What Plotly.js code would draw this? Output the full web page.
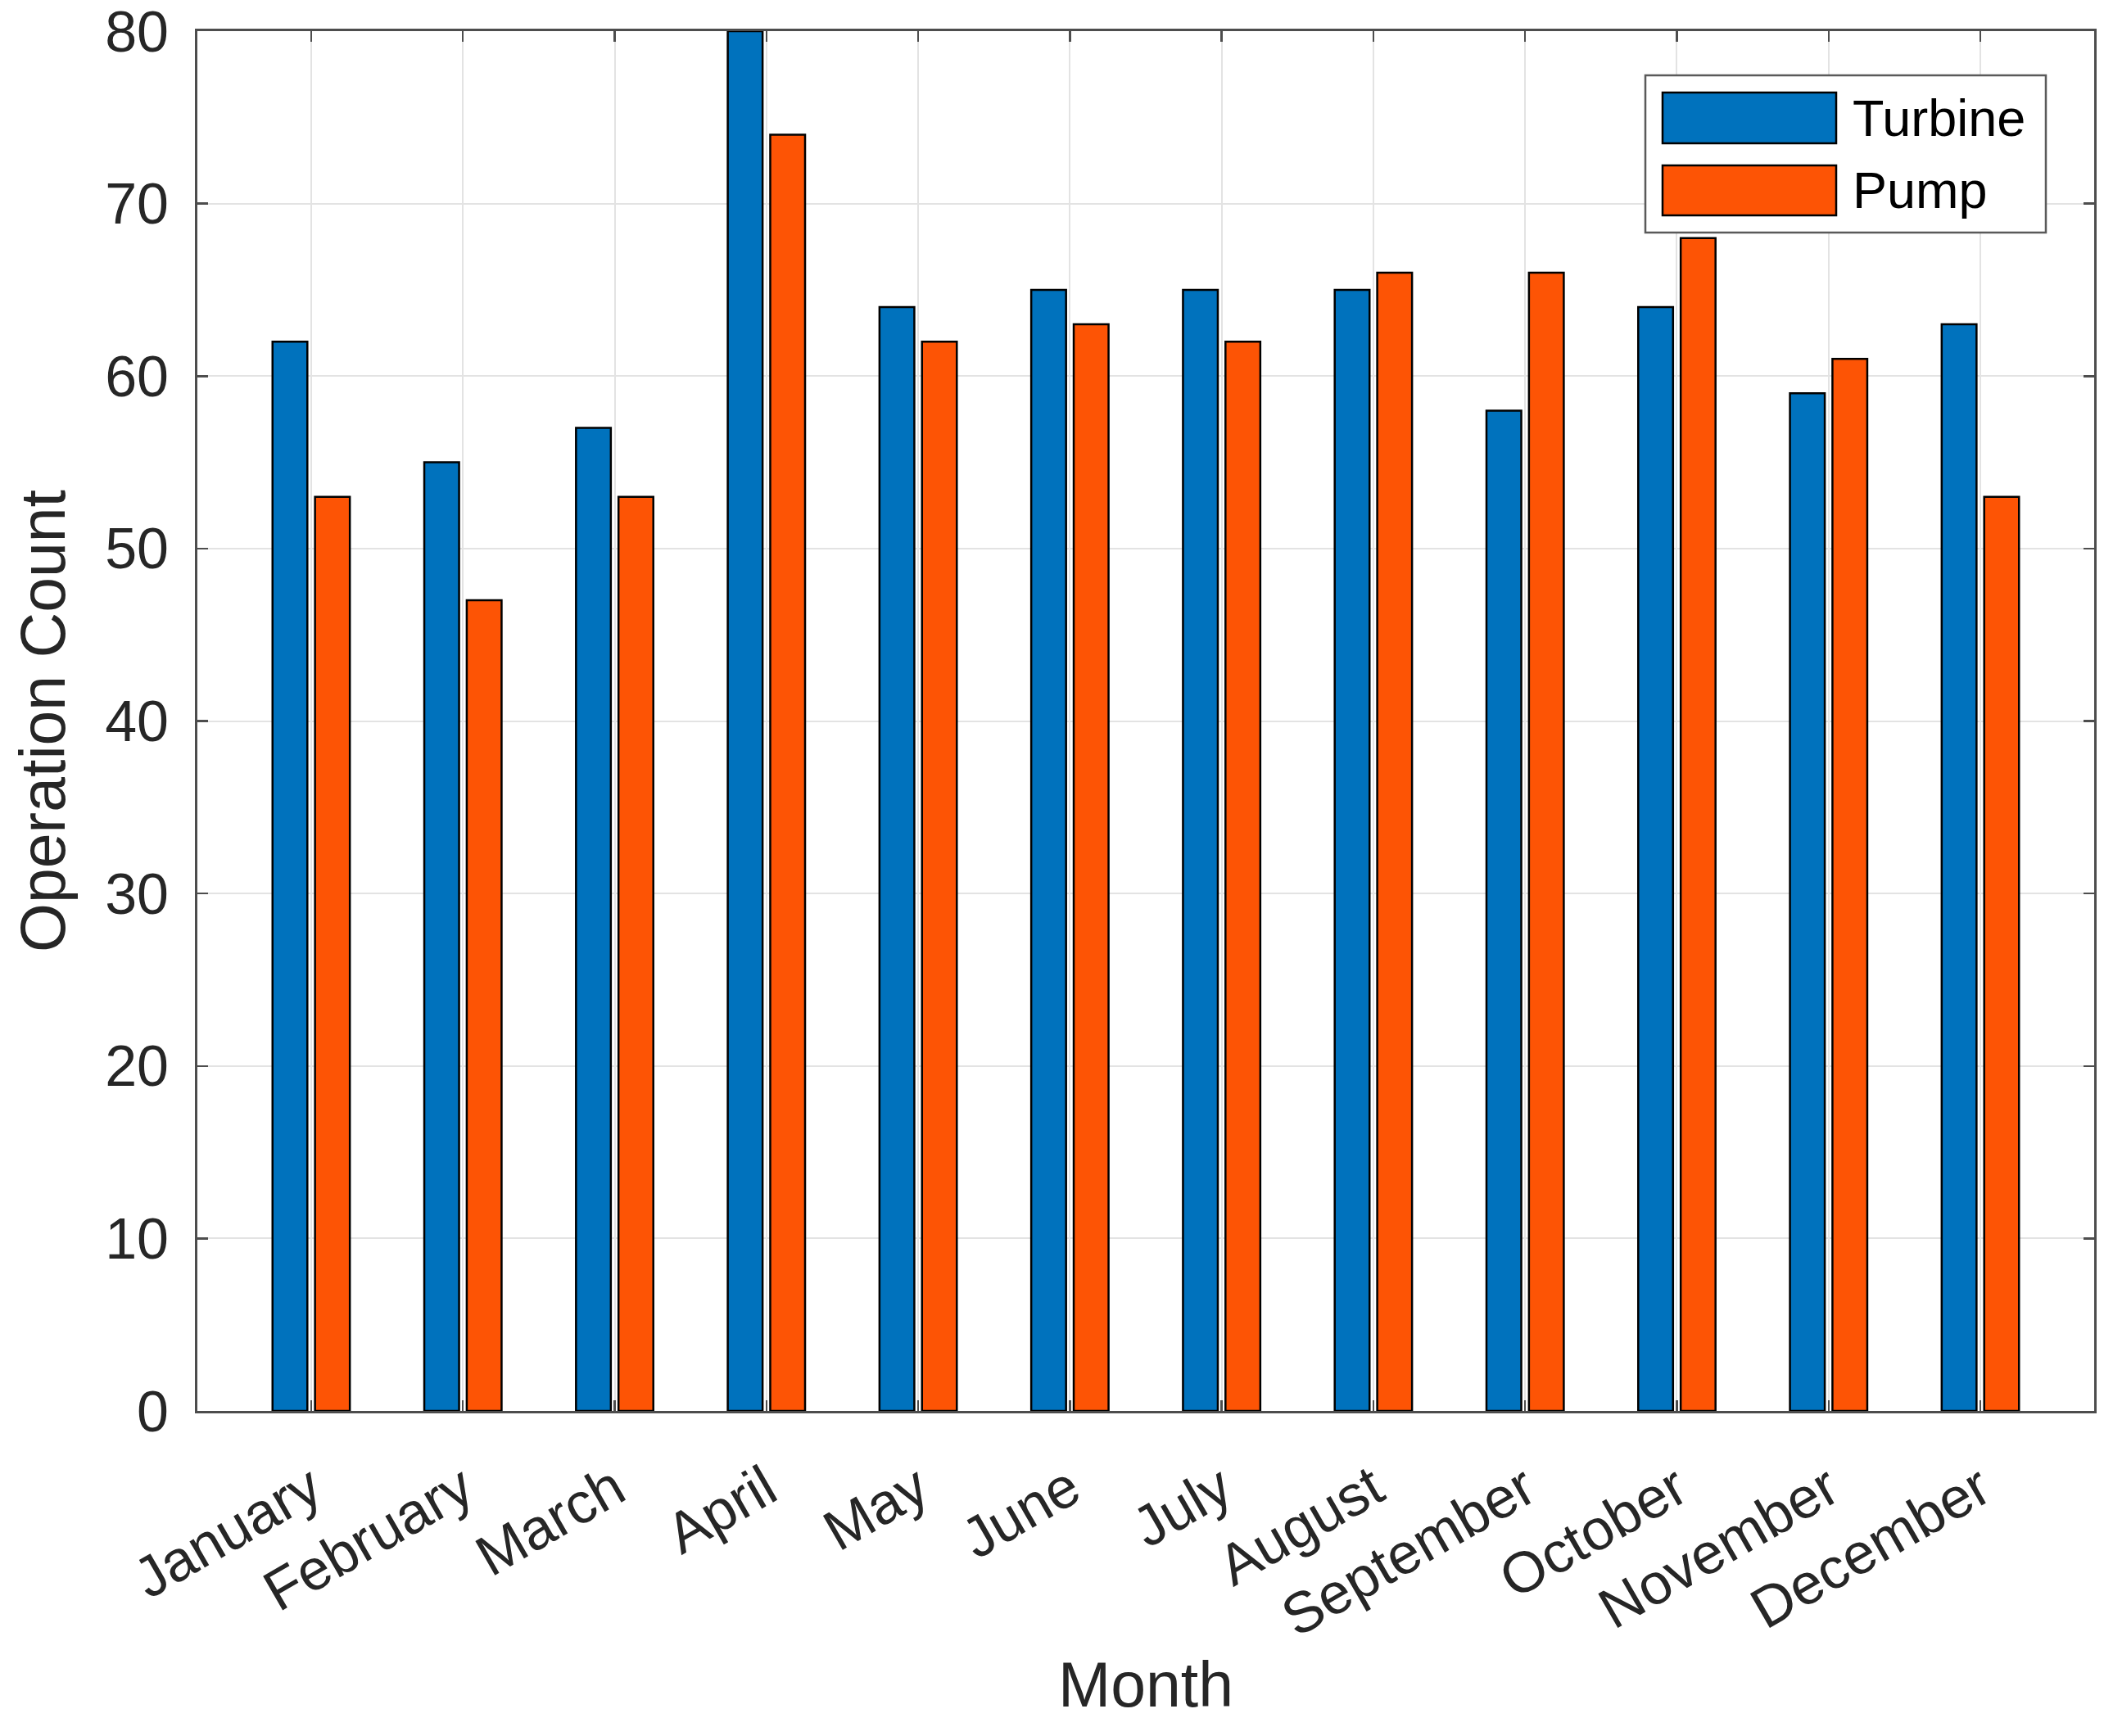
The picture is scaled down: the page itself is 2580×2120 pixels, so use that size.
<!DOCTYPE html>
<html>
<head>
<meta charset="utf-8">
<script src="https://cdn.plot.ly/plotly-3.0.1.min.js"></script>
<style>
  html, body { margin: 0; padding: 0; background: white; }
  #chart { width: 2580px; height: 2120px; }
</style>
</head>
<body>
<div id="chart"></div>
<script>
// data
const months = ['January', 'February', 'March', 'April', 'May', 'June',
                'July', 'August', 'September', 'October', 'November', 'December'];
const seriesNames = ['Turbine', 'Pump'];
const turbineCounts = [62, 55, 57, 80, 64, 65, 65, 65, 58, 64, 59, 63];
const pumpCounts = [53, 47, 53, 74, 62, 63, 62, 66, 66, 68, 61, 53];
const yTicks = [0, 10, 20, 30, 40, 50, 60, 70, 80];

const blue = '#0072BD';
const orange = '#FD5405';
const ink = '#262626';
const fontFamily = '"Liberation Sans", Arial, Helvetica, sans-serif';

// plot box in page pixels, used for the hand drawn legend
const W = 2580, H = 2120;
const box = { l: 241, r: 23, t: 38, b: 397 };
const pw = W - box.l - box.r, ph = H - box.t - box.b;
const px = x => (x - box.l) / pw;
const py = y => (H - box.b - y) / ph;

const traces = [
    {
        x: months, y: turbineCounts, name: seriesNames[0], type: 'bar',
        marker: { color: blue, line: { color: '#000000', width: 2.5 } },
        hovertemplate: '%{x}<br>' + seriesNames[0] + ': %{y}<extra></extra>'
    },
    {
        x: months, y: pumpCounts, name: seriesNames[1], type: 'bar',
        marker: { color: orange, line: { color: '#000000', width: 2.5 } },
        hovertemplate: '%{x}<br>' + seriesNames[1] + ': %{y}<extra></extra>'
    }
];

// legend (MATLAB style: wide swatches, boxed)
const legendShapes = [
    { type: 'rect', xref: 'paper', yref: 'paper', layer: 'above',
      x0: px(2009), x1: px(2498), y0: py(284), y1: py(92),
      fillcolor: 'white', line: { color: '#5a5a5a', width: 2.5 } },
    { type: 'rect', xref: 'paper', yref: 'paper', layer: 'above',
      x0: px(2030), x1: px(2242), y0: py(175), y1: py(113),
      fillcolor: blue, line: { color: '#000000', width: 2.5 } },
    { type: 'rect', xref: 'paper', yref: 'paper', layer: 'above',
      x0: px(2030), x1: px(2242), y0: py(263), y1: py(202),
      fillcolor: orange, line: { color: '#000000', width: 2.5 } }
];
const legendText = seriesNames.map((name, i) => ({
    xref: 'paper', yref: 'paper', x: px(2260), y: py(i === 0 ? 144 : 232),
    xanchor: 'left', yanchor: 'middle', showarrow: false,
    text: name, font: { family: fontFamily, size: 63, color: '#000000' }
}));

const layout = {
    width: W, height: H,
    paper_bgcolor: 'white', plot_bgcolor: 'white',
    margin: { l: box.l, r: box.r, t: box.t, b: box.b },
    font: { family: fontFamily, color: ink },
    showlegend: false,
    barmode: 'group',
    bargap: 0.44,
    bargroupgap: 0.18,
    xaxis: {
        type: 'category',
        range: [-0.75, 11.75],
        tickangle: -30,
        tickfont: { size: 70, color: ink },
        ticks: 'inside', ticklen: 13, tickwidth: 2.5, tickcolor: '#4d4d4d',
        ticklabelstandoff: 24,
        showgrid: true, gridcolor: '#e3e3e3', gridwidth: 2,
        showline: true, linecolor: '#4d4d4d', linewidth: 3, mirror: 'ticks',
        zeroline: false, fixedrange: true, automargin: false,
        title: { text: 'Month', font: { size: 77, color: ink }, standoff: 18 }
    },
    yaxis: {
        range: [0, 80],
        tickvals: yTicks,
        tickfont: { size: 70, color: ink },
        ticklabeloverflow: 'allow',
        ticks: 'inside', ticklen: 13, tickwidth: 2.5, tickcolor: '#4d4d4d',
        ticklabelstandoff: 18,
        showgrid: true, gridcolor: '#e3e3e3', gridwidth: 2,
        showline: true, linecolor: '#4d4d4d', linewidth: 3, mirror: 'ticks',
        zeroline: false, fixedrange: true, automargin: false,
        title: { text: 'Operation Count', font: { size: 77, color: ink }, standoff: 24 }
    },
    shapes: legendShapes,
    annotations: legendText
};

Plotly.newPlot('chart', traces, layout, { displayModeBar: false, staticPlot: true });
</script>
</body>
</html>
